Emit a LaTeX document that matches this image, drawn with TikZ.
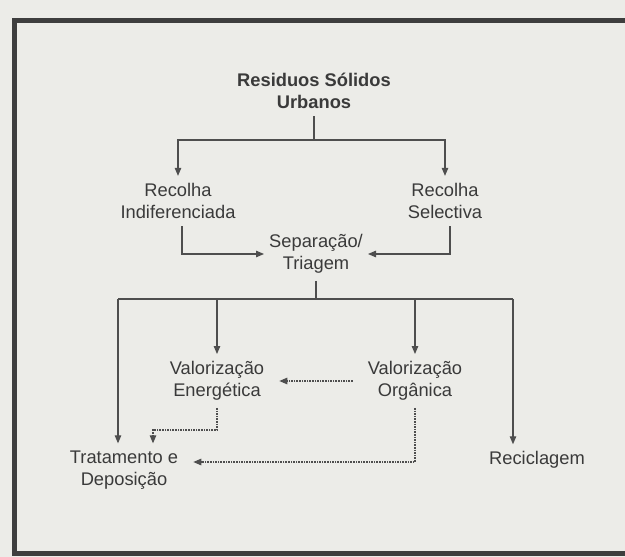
\documentclass[tikz,border=0pt]{standalone}
\usepackage{fontspec}
\setmainfont{Liberation Sans}
\usetikzlibrary{arrows.meta}
\definecolor{paper}{RGB}{236,236,232}
\definecolor{ink}{RGB}{78,78,78}
\definecolor{txt}{RGB}{58,58,58}
\definecolor{frame}{RGB}{62,62,62}
\begin{document}
\begin{tikzpicture}[x=1pt,y=-1pt,>={Triangle[length=8pt,width=6.5pt]}]
	\tikzstyle{lbl}=[align=center,text=txt,font=\fontsize{18.3}{22.5}\selectfont,inner xsep=15pt,inner ysep=7pt]
	\tikzstyle{con}=[draw=ink,line width=1.1pt]
	\tikzstyle{dots}=[con,dash pattern=on 1.6pt off 1pt]
	\useasboundingbox (0,0) rectangle (625,557);
	\fill[paper] (0,0) rectangle (625,557);
	\draw[frame,line width=5pt] (14,20) rectangle (640,553);
	\draw 
	node[lbl,font=\fontsize{18.3}{22.5}\selectfont\bfseries](A)at(314,91){Residuos Sólidos\\Urbanos}
	node[lbl](B)at(178,201){Recolha\\Indiferenciada}
	node[lbl](C)at(445,201){Recolha\\Selectiva}
	node[lbl,inner xsep=5pt](D)at(316,254){Separação/\\Triagem}
	node[lbl](E)at(217,381){Valorização\\Energética}
	node[lbl](F)at(415,381){Valorização\\Orgânica}
	node[lbl](G)at(124,470){Tratamento e\\Deposição}
	node[lbl](H)at(537,460){Reciclagem};
	
	\coordinate (s1) at (0,140);
	\coordinate (jl) at (118,299);
	\coordinate (jr) at (513,299);
	
	\draw[con](A.south)--(A.south |- s1);
	\draw[con,->](A.south |- s1)-|(B.north);
	\draw[con,->](A.south |- s1)-|(C.north);
	\draw[con,->]([xshift=4pt]B.south)|-(D.west);
	\draw[con,->]([xshift=5pt]C.south)|-(D.east);
	\draw[con](D.south)--(D.south |- jl);
	\draw[con](jl)--(jr);
	\draw[con,->](E.north |- jl)--(E.north);
	\draw[con,->](F.north |- jl)--(F.north);
	\draw[con,->](jl)--(jl |- G.north);
	\draw[con,->](jr)--(jr |- H.north);
	\draw[dots,->](F.west)--(E.east);
	\draw[dots,->](E.south)--++(0,22)-|([xshift=29pt]G.north);
	\draw[dots,->](F.south)|-([yshift=8pt]G.east);
\end{tikzpicture}
\end{document}
